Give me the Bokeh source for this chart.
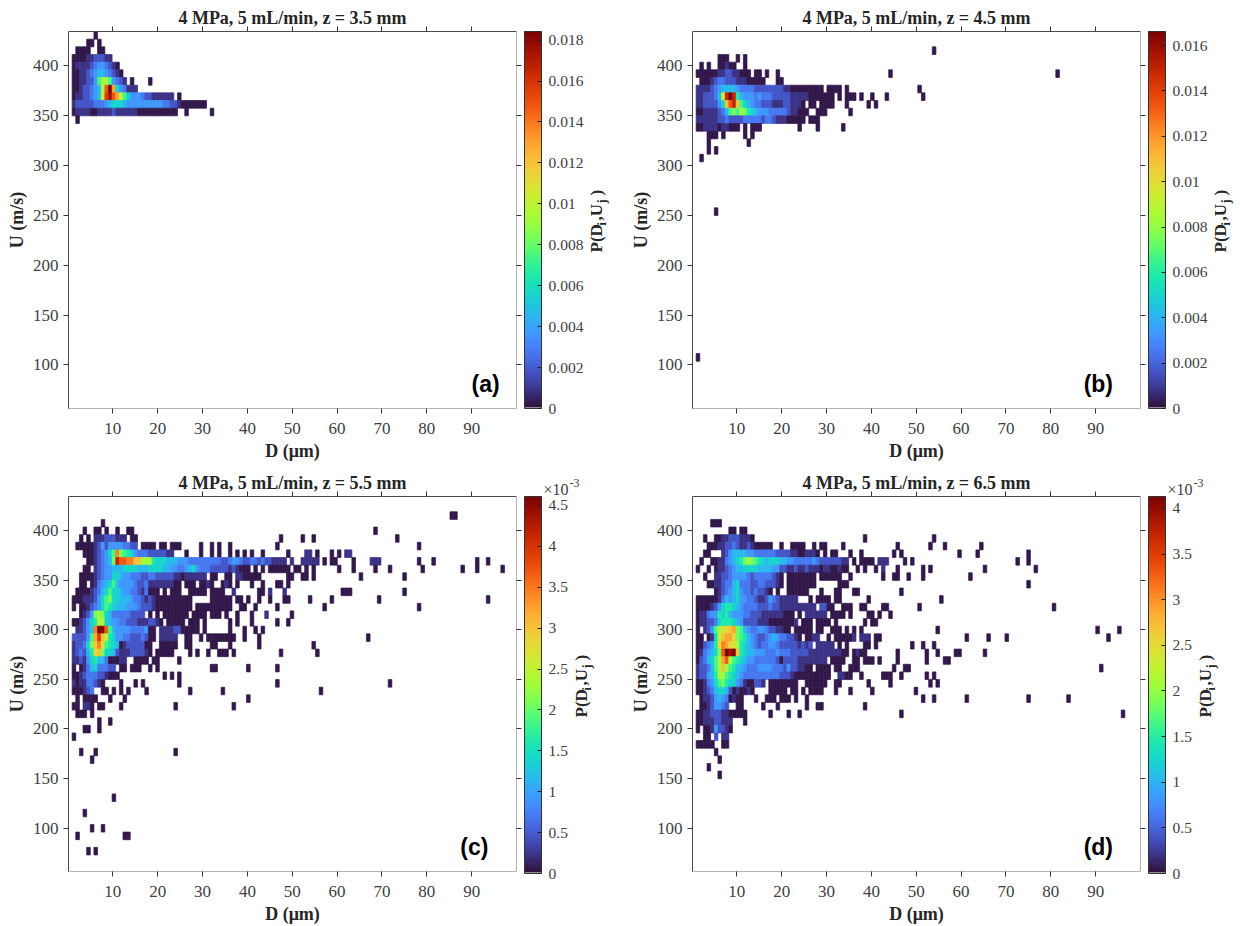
from math import pi
from bokeh.plotting import figure
from bokeh.layouts import column, row
from bokeh.embed import file_html
from bokeh.resources import INLINE
from bokeh.models import (ColumnDataSource, LinearColorMapper, ColorBar, LinearAxis, Label,
                          FixedTicker, Range1d, Title)
from bokeh.palettes import Turbo256
from bokeh.transform import transform

# Histogram bins
D_MIN, D_MAX = 0.12, 100.0
U_MIN, U_MAX = 56.3, 434.4
D_BIN = 0.81
U_BIN = 7.69

# colour level -> fraction of the panel's maximum
LEVELS = dict(a=.015, b=.05, c=.1, d=.15, e=.2, f=.25, g=.3, h=.35, i=.4, j=.45, k=.5,
              l=.55, m=.6, n=.65, o=.7, p=.75, q=.8, r=.85, s=.9, t=.95, u=1.0)

titles = ["4 MPa, 5 mL/min, z = 3.5 mm", "4 MPa, 5 mL/min, z = 4.5 mm",
          "4 MPa, 5 mL/min, z = 5.5 mm", "4 MPa, 5 mL/min, z = 6.5 mm"]
tags = ["(a)", "(b)", "(c)", "(d)"]
maxima = [0.01842, 0.01662, 0.00461, 0.00413]
x_ticks = [10, 20, 30, 40, 50, 60, 70, 80, 90]
y_ticks = [100, 150, 200, 250, 300, 350, 400]
bar_ticks_a = [0, .002, .004, .006, .008, .01, .012, .014, .016, .018]
bar_labels_a = ["0", "0.002", "0.004", "0.006", "0.008", "0.01", "0.012", "0.014", "0.016", "0.018"]
bar_ticks_b = [0, .002, .004, .006, .008, .01, .012, .014, .016]
bar_labels_b = ["0", "0.002", "0.004", "0.006", "0.008", "0.01", "0.012", "0.014", "0.016"]
bar_ticks_c = [0, .0005, .001, .0015, .002, .0025, .003, .0035, .004, .0045]
bar_labels_c = ["0", "0.5", "1", "1.5", "2", "2.5", "3", "3.5", "4", "4.5"]
bar_ticks_d = [0, .0005, .001, .0015, .002, .0025, .003, .0035, .004]
bar_labels_d = ["0", "0.5", "1", "1.5", "2", "2.5", "3", "3.5", "4"]

# each row: U-bin index from the top -> runs of (first D-bin index, level letters)
panel_a = {
    0: [(7, "a")],
    1: [(5, "aa"), (8, "a")],
    2: [(2, "aaaa"), (8, "aa")],
    3: [(1, "aaaabbcccbb")],
    4: [(1, "abbbbcdeedcba")],
    5: [(1, "aabbcdeffedcba")],
    6: [(1, "aabbcceikkiedcb"), (17, "a"), (22, "a")],
    7: [(1, "aabccdefkquogedbbb")],
    8: [(1, "abbccdeflrtqoligeeedccbbbbbb"), (30, "a")],
    9: [(1, "bcccccdddefgggfeeeeeeeeeeddccbaaaaaaa")],
    10: [(1, "abbbbaabbbbcbbbbbbaaaaaaaaaaa"), (32, "a"), (39, "a")],
    11: [(2, "a")],
}
panel_b = {
    2: [(66, "a")],
    3: [(7, "aaa"), (12, "a"), (14, "a")],
    4: [(2, "a"), (4, "a"), (7, "aabaa"), (14, "a")],
    5: [(1, "aaaaaabbccbbaaa"), (17, "aa"), (20, "a"), (23, "a"), (54, "a"), (100, "a")],
    6: [(2, "aaabcddcccbbbaaaaa"), (23, "aa")],
    7: [(1, "bbbbcdeffffeddddccccccccbbaaaaaaaaa"), (37, "aaaa"), (42, "a"), (62, "a")],
    8: [(1, "bbcccdflsushfeeededddcccccbbbbbaaaaaaa"), (40, "a"), (42, "aaa"), (46, "a"), (49, "a"), (53, "a"), (63, "a")],
    9: [(1, "bbccccegnqsnigfeddcccbbbccbbba"), (32, "aa"), (35, "aaaa"), (42, "a"), (48, "a"), (50, "a")],
    10: [(1, "aabbbbcdfijikjhgfeeedddddcbbaaa"), (34, "aaa"), (43, "a")],
    11: [(1, "bbbbbbccdccccdddddcddcbbbaaaaa"), (32, "aaa")],
    12: [(1, "aabbbbabbaaa"), (14, "a"), (16, "aaa"), (29, "a"), (34, "a"), (41, "a")],
    13: [(4, "aaa"), (8, "a"), (14, "a"), (16, "a")],
    14: [(4, "a"), (15, "a")],
    15: [(4, "a"), (6, "a")],
    16: [(2, "a")],
    23: [(6, "a")],
    42: [(1, "a")],
}
panel_c = {
    2: [(105, "aa")],
    3: [(9, "a")],
    4: [(4, "a"), (7, "aa"), (10, "a"), (13, "a"), (16, "aa"), (84, "a")],
    5: [(3, "a"), (5, "a"), (7, "bbbcccbbb"), (17, "aa"), (58, "a"), (64, "a"), (67, "a"), (90, "a")],
    6: [(2, "aaaaabceceeeeddcc"), (20, "aaaa"), (25, "aa"), (28, "aaa"), (36, "a"), (39, "a"), (41, "a"), (44, "a"), (57, "a"), (96, "a")],
    7: [(4, "aaabcdegipjihgedddcccccbb"), (32, "a"), (36, "a"), (39, "a"), (41, "a"), (44, "a"), (46, "a"), (48, "a"), (50, "a"), (53, "a"), (60, "a"), (65, "bb"), (68, "a"), (72, "a"), (74, "a"), (76, "bb")],
    8: [(5, "aabcdefjsqqppnnkkkhgggfffeeedddddddddccdeedccddcdccbbbb"), (61, "b"), (64, "bbbbb"), (70, "a"), (72, "aa"), (78, "a"), (83, "bbb"), (96, "a"), (100, "a"), (112, "a"), (115, "a")],
    9: [(4, "aa"), (7, "bcdeefffggggfffggggffeeddefgedddccccc"), (44, "bcbaaa"), (51, "a"), (53, "a"), (55, "aaaaaa"), (62, "aa"), (65, "a"), (67, "a"), (74, "a"), (78, "a"), (84, "a"), (88, "a"), (97, "a"), (108, "a"), (112, "a"), (119, "a")],
    10: [(3, "aaaabcdeeggfeedddccddcccccbba"), (32, "bbbbbb"), (39, "aa"), (43, "aa"), (46, "bb"), (48, "aaaaa"), (60, "aa"), (64, "aa"), (67, "a"), (80, "a"), (92, "a")],
    11: [(3, "aa"), (6, "abdefgifeeeedccdbbbbbbbaa"), (32, "aaa"), (36, "aaba"), (42, "aba"), (46, "a"), (50, "a"), (53, "a"), (57, "aa"), (60, "a")],
    12: [(2, "aaaa"), (6, "bcdfgiggfeeddcbdaaa"), (26, "a"), (28, "aaa"), (33, "aa"), (35, "aaa"), (39, "aaaa"), (45, "b"), (52, "aa"), (55, "b"), (59, "b"), (75, "aaa"), (92, "a")],
    13: [(1, "aaabbbcegijggfffeddcbcb"), (24, "aaaaaaaaaa"), (39, "aaaaaa"), (46, "aa"), (49, "a"), (52, "a"), (55, "a"), (59, "aa"), (66, "a"), (72, "a"), (85, "a"), (115, "a")],
    14: [(1, "a"), (3, "aabcdegihgfffeeedcccb"), (24, "aaaaaaaaaa"), (35, "aaaaaaaaaa"), (47, "aa"), (51, "a"), (57, "a"), (70, "a"), (96, "a")],
    15: [(3, "abcejkjgfdddddcccc"), (22, "a"), (24, "a"), (26, "aaaaaaa"), (34, "aaaa"), (39, "aaa"), (43, "a"), (46, "a"), (50, "a"), (54, "b"), (61, "a")],
    16: [(1, "aabceghlkgfeeddcccbbbccba"), (27, "aaaaa"), (33, "aaa"), (37, "a"), (44, "a"), (46, "a"), (50, "a"), (57, "a"), (60, "a")],
    17: [(2, "bbcefpuuqifeeeeddddeaa"), (25, "bbbbcc"), (31, "aaaaa"), (37, "a"), (44, "a"), (48, "a"), (51, "a"), (53, "a")],
    18: [(1, "cccceiornlhgeeddcccdcaa"), (25, "bbbbb"), (32, "aa"), (36, "a"), (38, "aaaaaaa"), (45, "a"), (48, "a"), (52, "a"), (82, "a")],
    19: [(1, "bccdgjnpmihgfabcccccaa"), (25, "aaaaa"), (32, "aa"), (39, "aa"), (44, "a"), (52, "a"), (67, "a")],
    20: [(1, "bcdcfhmnjggfcbbbccccba"), (24, "aaaaa"), (33, "a"), (35, "a"), (38, "a"), (41, "aaa"), (45, "a"), (58, "a"), (68, "a")],
    21: [(1, "bbcbeghffdaaabb"), (18, "aaaa"), (23, "aa"), (30, "a")],
    22: [(1, "a"), (3, "abdfgdddcc"), (14, "aa"), (17, "aaa"), (22, "a"), (24, "a"), (39, "aa"), (49, "a"), (57, "a")],
    23: [(1, "aabcdddccbaa"), (13, "a"), (26, "a"), (28, "a"), (30, "a")],
    24: [(1, "babbddcba"), (14, "a"), (18, "a"), (20, "a"), (30, "a"), (57, "a"), (88, "a")],
    25: [(1, "aaabcd"), (9, "aa"), (12, "a"), (14, "a"), (16, "a"), (21, "a"), (33, "a"), (42, "a"), (69, "a")],
    26: [(2, "a"), (4, "aaaa"), (11, "a"), (15, "a"), (49, "a")],
    27: [(1, "aa"), (4, "bba"), (8, "aa"), (14, "a"), (29, "a"), (45, "a")],
    28: [(2, "aaa"), (6, "a")],
    29: [(8, "a"), (11, "a")],
    30: [(4, "aa"), (8, "a")],
    31: [(1, "a")],
    33: [(3, "a"), (7, "a"), (29, "a")],
    34: [(6, "a")],
    39: [(12, "a")],
    41: [(4, "a")],
    43: [(6, "a"), (9, "a")],
    44: [(2, "a"), (15, "aa")],
    46: [(5, "a"), (7, "a")],
}
panel_d = {
    3: [(5, "aaa")],
    4: [(10, "aa"), (13, "aa")],
    5: [(3, "a"), (6, "aabbcccbbba"), (47, "a"), (66, "a")],
    6: [(4, "aaabbccdcbbcb"), (17, "aaaaa"), (24, "a"), (27, "aaaa"), (33, "a"), (35, "aa"), (41, "a"), (56, "a"), (65, "a"), (69, "a"), (79, "a")],
    7: [(3, "aa"), (8, "bceffffeedddddd"), (23, "cccc"), (27, "bb"), (29, "aa"), (31, "bbb"), (34, "a"), (36, "a"), (38, "aa"), (43, "a"), (46, "a"), (55, "a"), (57, "a"), (73, "a"), (78, "a"), (92, "a")],
    8: [(2, "a"), (5, "aabbdefghjkjihgfgggffeedddddedccccccbb"), (44, "a"), (46, "aaaa"), (51, "bbb"), (58, "a"), (60, "a"), (89, "a"), (92, "a")],
    9: [(1, "a"), (4, "a"), (6, "abbcdeffggggffffeeccbbcbbcbbbabbaabaa"), (45, "a"), (47, "a"), (50, "a"), (52, "b"), (56, "a"), (63, "a"), (65, "a"), (80, "a"), (94, "a")],
    10: [(3, "a"), (6, "bbccdeeeedcdddddcba"), (26, "aaaaaaaa"), (35, "aaaa"), (39, "aa"), (43, "a"), (52, "a"), (55, "aa"), (59, "a"), (63, "a"), (76, "a")],
    11: [(4, "aabbcddfgdddccddcccba"), (26, "aaaaaaaa"), (40, "aaa"), (92, "a")],
    12: [(6, "abcdefgeddcdccba"), (23, "a"), (26, "aaaaaa"), (35, "a"), (39, "aa"), (44, "aa"), (57, "a")],
    13: [(1, "aaaaaabdfefgeeddcbb"), (20, "cedcbbbbb"), (32, "a"), (34, "aaaa"), (39, "aa"), (48, "a"), (68, "a")],
    14: [(1, "aaaabceghhgfeddddcccdccbbbbbbbbbb"), (35, "cc"), (37, "aa"), (41, "aa"), (43, "a"), (46, "aa"), (52, "aa"), (62, "a"), (99, "a")],
    15: [(1, "abbdeehghfeeeddcccbbbbbbaaa"), (29, "a"), (31, "bbbbbb"), (38, "aaa"), (41, "a"), (43, "a"), (48, "aa"), (51, "a"), (54, "a")],
    16: [(1, "abbccdghhhgfeccccbbbaaaaaaab"), (30, "aaa"), (34, "aaaa"), (39, "a"), (47, "a"), (49, "aa")],
    17: [(1, "a"), (3, "bceikmmnojifeddeedccbbaa"), (28, "aaaaa"), (34, "aa"), (38, "aaa"), (42, "a"), (44, "a"), (46, "a"), (67, "a"), (111, "a"), (117, "a")],
    18: [(1, "aa"), (4, "abglnoomjihfedccdefeddccba"), (31, "aa"), (33, "bb"), (37, "a"), (39, "aaaaa"), (44, "b"), (46, "bbb"), (50, "aa"), (75, "a"), (81, "a"), (86, "a"), (114, "a")],
    19: [(1, "aacdehmpommkhgfedcddeedcccccbcbc"), (34, "bbbbb"), (40, "a"), (42, "a"), (47, "aa"), (50, "a"), (60, "a"), (63, "a"), (66, "a")],
    20: [(1, "abdefgjqutunhgffeeedddeddd"), (27, "ccccc"), (32, "bbbbbbbbb"), (41, "aa"), (44, "abaa"), (56, "a"), (64, "a"), (67, "a"), (72, "aa"), (80, "a")],
    21: [(1, "acdfgikoqkihgfeeddddddcaccccbbbbbbbb"), (38, "aaaa"), (44, "aa"), (47, "aaa"), (51, "a"), (56, "a"), (64, "a"), (69, "aa")],
    22: [(1, "bccdfiknkihffedddeeeedddceccbbaa"), (34, "aaaa"), (39, "aa"), (43, "aaa"), (55, "a"), (58, "aa"), (112, "a")],
    23: [(1, "bccefhkkihgfeddddddddddc"), (25, "ccb"), (28, "aaaaaaaaaa"), (40, "bbaa"), (46, "a"), (52, "aaa"), (57, "a"), (64, "a"), (66, "a")],
    24: [(1, "aabdegijhggedbaa"), (17, "ccb"), (21, "aaaaaaaa"), (31, "aaaaaa"), (39, "aa"), (48, "a"), (54, "a"), (65, "a"), (67, "a")],
    25: [(1, "aabcdfggfcabaaba"), (21, "aaaaa"), (27, "aa"), (30, "a"), (32, "aaaa"), (39, "a"), (43, "a"), (49, "a"), (61, "a")],
    26: [(2, "abbcefedabaa"), (17, "a"), (20, "aaa"), (24, "aaa"), (28, "a"), (31, "a"), (63, "a"), (66, "a"), (75, "a"), (92, "a"), (103, "a")],
    27: [(2, "aabceedc"), (12, "aa"), (19, "a"), (23, "a"), (31, "a"), (34, "aa"), (47, "a")],
    28: [(1, "aabbcccbbaaaaa"), (21, "a"), (26, "a"), (29, "a"), (57, "a"), (118, "a")],
    29: [(1, "aabbbccbbb"), (14, "a")],
    30: [(1, "a"), (3, "aabeccb"), (10, "a")],
    31: [(3, "aa"), (6, "c"), (8, "bb")],
    32: [(1, "aaaaa"), (8, "aa")],
    33: [(6, "a")],
    34: [(7, "a")],
    35: [(4, "a")],
    36: [(7, "a")],
}

SERIF = "Liberation Serif"
INK = "#404040"
DARK = "#4a4a4a"
PALE = "#b4b4b4"
TOP, FRAME_H, LEFT, FRAME_W = 31, 377, 68, 448


def make_panel(idx, rows, bar_ticks, bar_labels, side_w, height, tag_x, ylab_x, offset_text):
    peak = maxima[idx]
    left, right, bottom, top, vals = [], [], [], [], []
    for j, runs in rows.items():
        for start, letters in runs:
            for k, ch in enumerate(letters):
                c = start + k
                left.append(D_MIN + c * D_BIN)
                right.append(D_MIN + (c + 1) * D_BIN)
                top.append(U_MAX - j * U_BIN)
                bottom.append(U_MAX - (j + 1) * U_BIN)
                vals.append(LEVELS[ch] * peak)
    src = ColumnDataSource(dict(left=left, right=right, bottom=bottom, top=top, val=vals))
    mapper = LinearColorMapper(palette=["#ffffff"] + list(Turbo256), low=0, high=peak)

    p = figure(width=524, height=height, output_backend="svg", toolbar_location=None,
               x_range=Range1d(D_MIN, D_MAX), y_range=Range1d(U_MIN, U_MAX),
               min_border_left=LEFT, min_border_right=8,
               min_border_top=TOP, min_border_bottom=height - TOP - FRAME_H,
               background_fill_color="white", outline_line_color=None, frame_align=False)
    p.grid.visible = False
    p.quad(left="left", right="right", bottom="bottom", top="top", source=src,
           fill_color=transform("val", mapper), line_color=transform("val", mapper), line_width=0.7)

    for ax, lab in ((p.xaxis[0], "D (\u03bcm)"), (p.yaxis[0], "U (m/s)")):
        ax.axis_label = lab
        ax.axis_label_text_font = SERIF
        ax.axis_label_text_font_size = "18px"
        ax.axis_label_text_font_style = "bold"
        ax.axis_label_text_color = "#262626"
        ax.major_label_text_font = SERIF
        ax.major_label_text_font_size = "17px"
        ax.major_label_text_color = INK
        ax.major_tick_in = 0
        ax.major_tick_out = 5
        ax.minor_tick_line_color = None
        ax.major_tick_line_color = "#333333"
        ax.axis_line_color = DARK
    p.xaxis[0].ticker = FixedTicker(ticks=x_ticks)
    p.yaxis[0].ticker = FixedTicker(ticks=y_ticks)
    p.xaxis[0].axis_line_color = PALE
    p.xaxis[0].major_label_standoff = 9
    p.xaxis[0].axis_label_standoff = 4
    p.yaxis[0].axis_label_standoff = 3

    for side, tk, col in (("above", x_ticks, DARK), ("right", y_ticks, PALE)):
        a = LinearAxis(ticker=FixedTicker(ticks=tk), major_label_text_font_size="0px",
                       major_label_text_color=None, major_tick_in=0, major_tick_out=5,
                       minor_tick_line_color=None, major_tick_line_color="#333333",
                       axis_line_color=col, major_label_standoff=0)
        p.add_layout(a, side)

    t = Title(text=titles[idx], align="center", vertical_align="bottom", text_font=SERIF,
              text_font_size="18px", text_font_style="bold", text_color="#262626", standoff=-3, offset=0)
    p.add_layout(t, "above")

    # panel letter
    p.add_layout(Label(x=tag_x, y=81, text=tags[idx], text_font="Liberation Sans", text_font_style="bold",
                       text_font_size="23px", text_color="black", text_align="center", text_baseline="middle"))

    # strip to the right of the axes: colour bar and its rotated label (units here are pixels from top left)
    s = figure(width=side_w, height=height, output_backend="svg", toolbar_location=None,
               x_range=Range1d(0, side_w), y_range=Range1d(height, 0), x_axis_type=None, y_axis_type=None,
               min_border=0, min_border_left=0, min_border_right=0, min_border_top=0, min_border_bottom=0,
               outline_line_color=None, background_fill_color="white", frame_align=False)
    s.grid.visible = False

    bar = ColorBar(color_mapper=mapper, location=(0, height - TOP - FRAME_H), width=17, height=FRAME_H,
                   padding=0, margin=0, ticker=FixedTicker(ticks=bar_ticks),
                   major_label_overrides=dict(zip(bar_ticks, bar_labels)),
                   major_label_text_font=SERIF, major_label_text_font_size="15.5px",
                   major_label_text_color=INK, label_standoff=7,
                   major_tick_in=4, major_tick_out=0, major_tick_line_color="#222222",
                   minor_tick_line_color=None, bar_line_color="#333333",
                   background_fill_alpha=0, border_line_color=None)
    s.add_layout(bar)

    parts = [("P(D", 0, 17, 0), ("i", 27, 12, 5), (",U", 32, 17, 0), ("j", 49, 12, 5), (")", 57, 17, 0)]
    for txt, along, size, drop in parts:
        s.add_layout(Label(x=ylab_x + drop, y=252 - along, text=txt, angle=pi / 2, text_font=SERIF,
                           text_font_style="bold", text_font_size=f"{size}px", text_color="#262626",
                           text_align="left", text_baseline="alphabetic"))

    if offset_text:
        s.add_layout(Label(x=19, y=24, text="\u00d710", text_font=SERIF, text_font_size="16px",
                           text_color=INK, text_baseline="alphabetic"))
        s.add_layout(Label(x=45, y=17, text="-3", text_font=SERIF, text_font_size="12px",
                           text_color=INK, text_baseline="alphabetic"))
    return row(p, s, spacing=0)


pa = make_panel(0, panel_a, bar_ticks_a, bar_labels_a, 100, 465, 93.1, 72, False)
pb = make_panel(1, panel_b, bar_ticks_b, bar_labels_b, 92, 465, 90.6, 72, False)
pc = make_panel(2, panel_c, bar_ticks_c, bar_labels_c, 100, 461, 90.6, 57, True)
pd = make_panel(3, panel_d, bar_ticks_d, bar_labels_d, 92, 461, 90.6, 57, True)

page = column(row(pa, pb, spacing=0), row(pc, pd, spacing=0), spacing=0)
open("out.html", "w").write(file_html(page, INLINE))
